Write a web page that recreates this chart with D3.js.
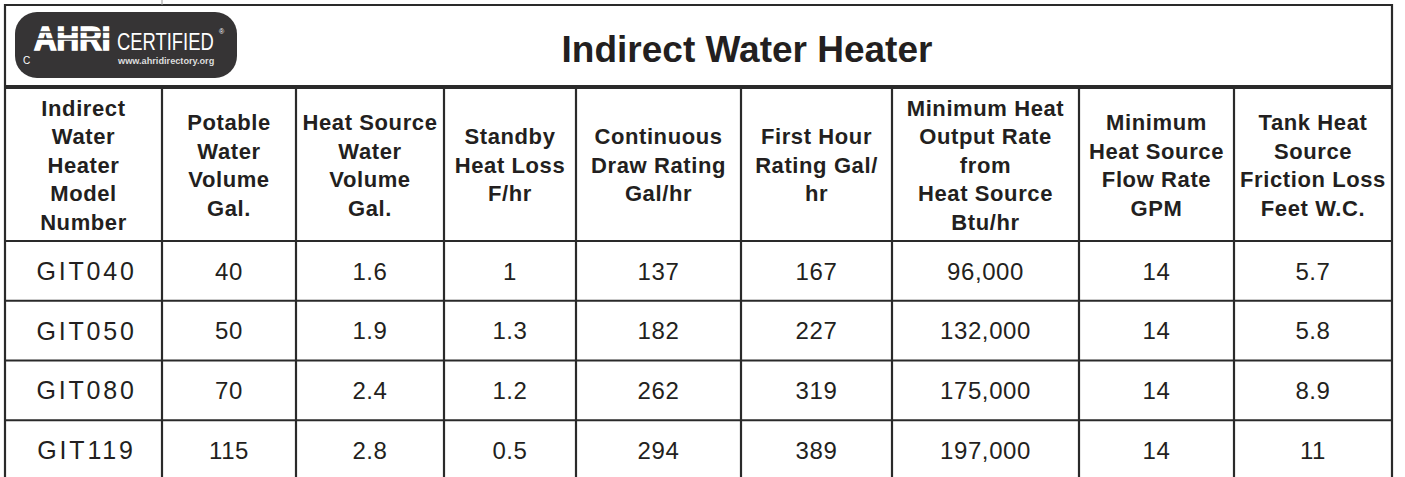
<!DOCTYPE html>
<html>
<head>
<meta charset="utf-8">
<script src="https://cdn.jsdelivr.net/npm/d3@7"></script>
<style>
  html, body { margin: 0; padding: 0; background: #fff; }
  svg { display: block; }
</style>
</head>
<body>
<svg id="tbl" width="1405" height="477"></svg>
<script>
// table contents
const title = 'Indirect Water Heater';
const headers = [
  ['Indirect', 'Water', 'Heater', 'Model', 'Number'],
  ['Potable', 'Water', 'Volume', 'Gal.'],
  ['Heat Source', 'Water', 'Volume', 'Gal.'],
  ['Standby', 'Heat Loss', 'F/hr'],
  ['Continuous', 'Draw Rating', 'Gal/hr'],
  ['First Hour', 'Rating Gal/', 'hr'],
  ['Minimum Heat', 'Output Rate', 'from', 'Heat Source', 'Btu/hr'],
  ['Minimum', 'Heat Source', 'Flow Rate', 'GPM'],
  ['Tank Heat', 'Source', 'Friction Loss', 'Feet W.C.']
];
const models = ['GIT040', 'GIT050', 'GIT080', 'GIT119'];
const potableVol = [40, 50, 70, 115];
const sourceVol = [1.6, 1.9, 2.4, 2.8];
const standbyLoss = [1, 1.3, 1.2, 0.5];
const continuousDraw = [137, 182, 262, 294];
const firstHour = [167, 227, 319, 389];
const minOutput = [96000, 132000, 175000, 197000];
const minFlow = [14, 14, 14, 14];
const frictionLoss = [5.7, 5.8, 8.9, 11];

const fmtComma = d3.format(',');
const columns = [models, potableVol, sourceVol, standbyLoss, continuousDraw,
  firstHour, minOutput.map(fmtComma), minFlow, frictionLoss];

// layout
const colWidths = [157, 134, 148, 132, 165, 151, 187, 155, 158];
const leftX = 5, topY = 5, headBottom = 87, colHeadBottom = 241, bottomY = 480;
const ink = '#231f20';
const lineCol = '#2a2a2a';
const font = 'Liberation Sans, Arial, sans-serif';

const edges = [leftX];
colWidths.forEach(w => edges.push(edges[edges.length - 1] + w));
const rightX = edges[edges.length - 1];

const svg = d3.select('#tbl');
const g = svg.append('g');

const y = d3.scaleBand().domain(d3.range(models.length)).range([colHeadBottom, bottomY]);

// header band: logo + title
const logoBg = '#363435';
const logo = g.append('g');
logo.append('rect').attr('x', 15).attr('y', 12).attr('width', 222).attr('height', 66)
  .attr('rx', 22).attr('fill', logoBg);
logo.append('text').attr('transform', 'translate(34,50) scale(0.92,1)').text('AHRI')
  .attr('font-family', font).attr('font-weight', 'bold')
  .attr('font-size', 34).attr('fill', '#fff').attr('stroke', '#fff').attr('stroke-width', 1.6);
// speed stripes across the letters
[32, 39].forEach(yy => logo.append('line').attr('x1', 32).attr('x2', 113).attr('y1', yy).attr('y2', yy)
  .attr('stroke', logoBg).attr('stroke-width', 1.6));
logo.append('text').attr('transform', 'translate(117,50) scale(0.8,1)').text('CERTIFIED')
  .attr('font-family', font).attr('font-size', 23).attr('fill', '#fff');
logo.append('text').attr('x', 219).attr('y', 34).text('®')
  .attr('font-family', font).attr('font-size', 7).attr('fill', '#fff');
logo.append('text').attr('transform', 'translate(118,64) scale(1.02,1)').text('www.ahridirectory.org')
  .attr('font-family', font).attr('font-weight', 'bold')
  .attr('font-size', 9).attr('fill', '#ddd');
logo.append('text').attr('x', 23).attr('y', 64).text('C')
  .attr('font-family', font).attr('font-size', 10).attr('fill', '#fff');

g.append('text').attr('x', 747).attr('y', 62).attr('text-anchor', 'middle').text(title)
  .attr('font-family', font).attr('font-weight', 'bold')
  .attr('font-size', 37).attr('fill', ink);

// column headings
const lineH = 28.5;
const headMid = (headBottom + colHeadBottom) / 2 + 1;
headers.forEach((lines, i) => {
  const cx = (edges[i] + edges[i + 1]) / 2;
  const t = g.append('text').attr('text-anchor', 'middle')
    .attr('font-family', font).attr('font-weight', 'bold')
    .attr('font-size', 22).attr('letter-spacing', 0.6).attr('fill', ink);
  lines.forEach((ln, k) => {
    t.append('tspan').attr('x', cx)
      .attr('y', headMid + (k - (lines.length - 1) / 2) * lineH)
      .attr('dy', '0.36em').text(ln);
  });
});

// data cells
columns.forEach((vals, i) => {
  const cx = (edges[i] + edges[i + 1]) / 2;
  g.selectAll(null).data(vals).join('text')
    .attr('x', i === 0 ? cx + 3 : cx)
    .attr('y', (d, r) => y(r) + y.bandwidth() / 2)
    .attr('dy', '0.36em')
    .attr('text-anchor', 'middle')
    .attr('font-family', font)
    .attr('font-size', i === 0 ? 25 : 24)
    .attr('letter-spacing', i === 0 ? 2.8 : 0.6)
    .attr('fill', ink)
    .text(d => d);
});

// grid lines
const grid = g.append('g').attr('stroke', lineCol).attr('fill', 'none');
grid.append('line').attr('x1', leftX).attr('x2', rightX).attr('y1', topY).attr('y2', topY).attr('stroke-width', 2);
grid.append('line').attr('x1', leftX).attr('x2', rightX + 1).attr('y1', headBottom).attr('y2', headBottom).attr('stroke-width', 4);
grid.append('line').attr('x1', leftX).attr('x2', leftX).attr('y1', topY - 1).attr('y2', bottomY).attr('stroke-width', 2.2);
grid.append('line').attr('x1', rightX).attr('x2', rightX).attr('y1', topY - 1).attr('y2', bottomY).attr('stroke-width', 2.2);
grid.append('line').attr('x1', edges[1]).attr('x2', edges[1]).attr('y1', 0).attr('y2', topY)
  .attr('stroke', '#999').attr('stroke-width', 1);
grid.selectAll('.v').data(edges.slice(1, -1)).join('line')
  .attr('x1', d => d).attr('x2', d => d).attr('y1', headBottom).attr('y2', bottomY).attr('stroke-width', 2.2);
grid.selectAll('.h').data(d3.range(models.length)).join('line')
  .attr('x1', leftX).attr('x2', rightX).attr('y1', r => y(r)).attr('y2', r => y(r)).attr('stroke-width', 2.2);
</script>
</body>
</html>
